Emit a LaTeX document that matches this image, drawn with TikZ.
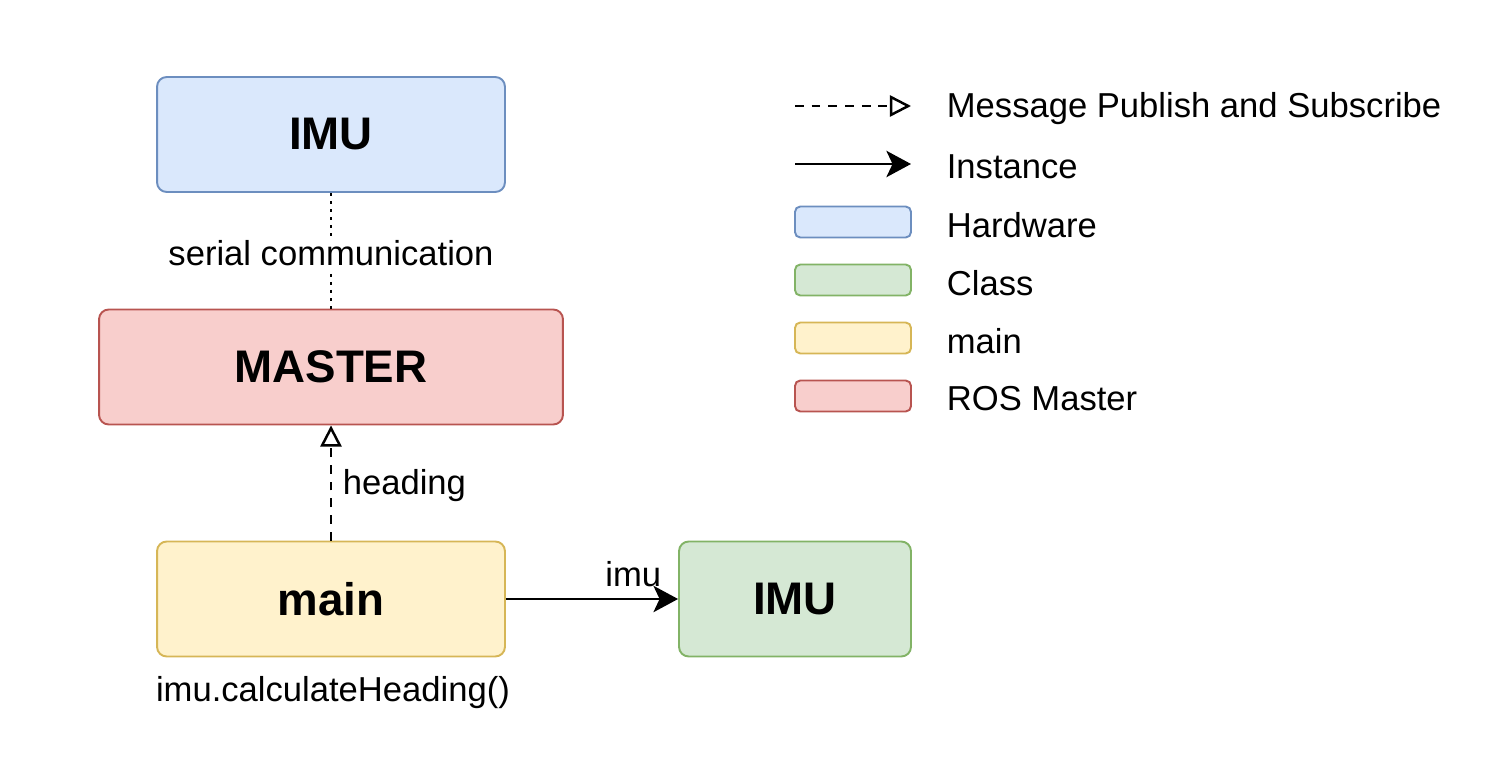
\documentclass[tikz,border=0pt]{standalone}
\usepackage{fontspec}
\setmainfont{Liberation Sans}
\usepackage{tikz}
\usetikzlibrary{arrows.meta}

\definecolor{hwfill}{HTML}{DAE8FC}
\definecolor{hwline}{HTML}{6C8EBF}
\definecolor{clsfill}{HTML}{D5E8D4}
\definecolor{clsline}{HTML}{82B366}
\definecolor{mainfill}{HTML}{FFF2CC}
\definecolor{mainline}{HTML}{D6B656}
\definecolor{rosfill}{HTML}{F8CECC}
\definecolor{rosline}{HTML}{B85450}

\tikzset{
  box/.style={draw, rounded corners=5.5pt, line width=1.1pt, minimum height=2.3cm,
    font=\fontsize{26}{30}\selectfont\bfseries},
  keybox/.style={draw, rounded corners=3pt, line width=1.1pt, minimum width=2.32cm, minimum height=0.62cm},
  lbl/.style={font=\fontsize{19.7}{23}\selectfont, inner sep=2pt, yshift=-1.5pt},
  pubsub/.style={line width=1.4pt, dash pattern=on 5pt off 4.5pt, -{Triangle[open, length=12pt, width=12pt]}},
  inst/.style={line width=1.4pt, -{Stealth[length=14pt, width=15pt, inset=3.5pt]}}
}

\begin{document}
\begin{tikzpicture}[x=0.02cm, y=-0.02cm]
  \useasboundingbox (0,0) rectangle (1498,784);
  % boxes
  \node[box, fill=hwfill, draw=hwline, minimum width=6.96cm] (hwimu) at (331,134.5) {IMU};
  \node[box, fill=rosfill, draw=rosline, minimum width=9.28cm] (master) at (331,367) {MASTER};
  \node[box, fill=mainfill, draw=mainline, minimum width=6.96cm] (mainbox) at (331,599) {main};
  \node[box, fill=clsfill, draw=clsline, minimum width=4.64cm] (clsimu) at (795,599) {IMU};
  % connectors
  \draw[line width=1.3pt, dash pattern=on 1.6pt off 3pt] (hwimu) -- (master)
    node[lbl, midway, fill=white] (serial) {serial communication};
  \draw[pubsub] (mainbox) -- (master) node[lbl, midway, right, xshift=4pt] (head) {heading};
  \draw[inst] (mainbox) -- (clsimu) node[lbl, pos=0.74, above, yshift=6pt] (imulbl) {imu};
  \node[lbl] (call) at (333,690) {imu.calculateHeading()};
  % legend
  \coordinate (pa) at (795,106); \coordinate (pb) at (911,106);
  \coordinate (ia) at (795,164); \coordinate (ib) at (911,164);
  \draw[pubsub] (pa) -- (pb);
  \draw[inst] (ia) -- (ib);
  \node[lbl, anchor=west] (kpub) at (943,106) {Message Publish and Subscribe};
  \node[lbl, anchor=west] (kinst) at (943,164) {Instance};
  \node[keybox, fill=hwfill, draw=hwline] (khw) at (853,222) {};
  \node[keybox, fill=clsfill, draw=clsline] (kcls) at (853,280) {};
  \node[keybox, fill=mainfill, draw=mainline] (kmain) at (853,338) {};
  \node[keybox, fill=rosfill, draw=rosline] (kros) at (853,396) {};
  \node[lbl, anchor=west] (khwt) at (943,222) {Hardware};
  \node[lbl, anchor=west] (kclst) at (943,280) {Class};
  \node[lbl, anchor=west] (kmaint) at (943,338) {main};
  \node[lbl, anchor=west] (krost) at (943,396) {ROS Master};
\end{tikzpicture}
\end{document}
